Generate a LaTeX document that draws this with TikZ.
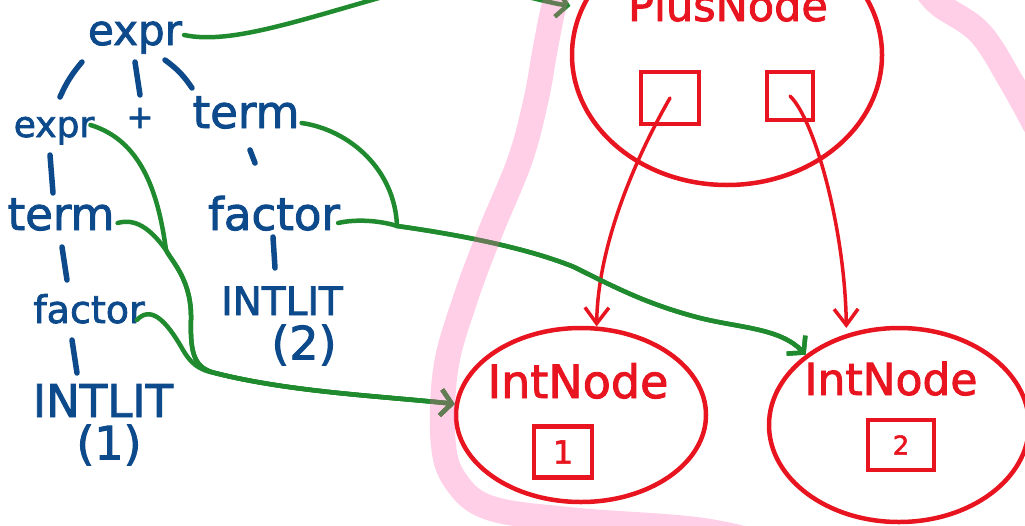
\documentclass[tikz,border=0pt]{standalone}
\usepackage{fontspec}
\setmainfont{DejaVu Sans}[BoldFont=DejaVu Sans,BoldFeatures={FakeBold=2}]
\usetikzlibrary{arrows.meta,shapes.geometric,calc}
\definecolor{ink}{HTML}{0D4A8B}
\definecolor{rd}{HTML}{E8141F}
\definecolor{gr}{HTML}{1F8A2E}
\definecolor{pk}{HTML}{FF5FAF}
\begin{document}
\begin{tikzpicture}[x=1pt,y=-1pt,
  fs/.style={font=\fontsize{#1}{#1}\selectfont\bfseries},
  bl/.style={text=ink, inner sep=0pt, anchor=base},
  rl/.style={text=rd, inner sep=0pt, anchor=base},
  tree/.style={draw=ink, line width=5.5pt, line cap=round},
  oval/.style={draw=rd, ellipse, line width=4.5pt, inner sep=0pt},
  sbox/.style={draw=rd, line width=4.5pt, inner sep=0pt, text=rd},
  ptr/.style={draw=rd, line width=3.5pt, line cap=round, -{Straight Barb[length=16pt,width=24pt]}},
  link/.style={draw=gr, line width=4.5pt, line cap=round, -{Straight Barb[length=11pt,width=26pt]}},
  hl/.style={draw=pk, line width=25pt, opacity=0.3, line cap=round, line join=round}]
\useasboundingbox (0,0) rectangle (1025,525);
\clip (0,0) rectangle (1025,525);

% parse tree
\node[bl,fs=42] (exprT) at (135,45) {expr};
\node[bl,fs=36] (exprL) at (54,137) {expr};
\node[text=ink,inner sep=0pt,fs=32] (plus) at (140,118) {+};
\node[bl,fs=45] (termR) at (246,128) {term};
\node[bl,fs=45] (factorR) at (274,230) {factor};
\node[bl,fs=39] (intlitR) at (282,315) {INTLIT};
\node[text=ink,inner sep=0pt,fs=46] (twoR) at (304,345) {(2)};
\node[bl,fs=45] (termL) at (61,230) {term};
\node[bl,fs=38] (factorL) at (89,323) {factor};
\node[bl,fs=45] (intlitL) at (103,417) {INTLIT};
\node[text=ink,inner sep=0pt,fs=46] (oneL) at (109,445) {(1)};

\draw[tree] ($(exprT.base)+(-53,17)$) to[bend right=8] ($(exprL.base)+(6,-40)$);
\draw[tree] ($(exprT.base)+(0,17)$) -- ($(plus.center)+(0,-23)$);
\draw[tree] ($(exprT.base)+(30,15)$) to[bend left=10] ($(termR.base)+(-54,-40)$);
\draw[tree] ($(termR.base)+(4,22)$) -- ($(factorR.base)+(-19,-67)$);
\draw[tree] ($(factorR.base)+(-1,7)$) -- ($(intlitR.base)+(-7,-47)$);
\draw[tree] ($(exprL.base)+(-4,18)$) -- ($(termL.base)+(-8,-37)$);
\draw[tree] ($(termL.base)+(1,17)$) -- ($(factorL.base)+(-22,-43)$);
\draw[tree] ($(factorL.base)+(-17,17)$) -- ($(intlitL.base)+(-26,-44)$);

% AST
\node[oval,minimum width=310,minimum height=260] (plusN) at (727,55) {};
\node[rl,fs=43] (plusLbl) at (728,21) {PlusNode};
\node[sbox,minimum width=58,minimum height=52] (lbox) at (670,98) {};
\node[sbox,minimum width=46,minimum height=48] (rbox) at (790,96) {};

\node[oval,minimum width=250,minimum height=174] (int1) at (581,415) {};
\node[rl,fs=46] (int1Lbl) at (578,398) {IntNode};
\node[sbox,minimum width=58,minimum height=51,fs=32] (box1) at (563,452) {1};

\node[oval,minimum width=260,minimum height=194] (int2) at (899,425) {};
\node[rl,fs=44] (int2Lbl) at (891,395) {IntNode};
\node[sbox,minimum width=66,minimum height=50,fs=26] (box2) at (901,445) {2};

\draw[ptr] (lbox.center) .. controls (640,150) and (598,240) .. (int1.80);
\draw[ptr,shorten >=6pt] (rbox.center) .. controls (815,120) and (845,230) .. (int2.120);

% correspondence links
\draw[link,shorten >=10pt] ($(exprT.base east)+(2,-10)$) .. controls (230,45) and (300,20) .. (400,-8) .. controls (470,-25) and (530,0) .. (plusN.162);
\draw[link] ($(exprL.base east)+(-4,-12)$) .. controls (140,140) and (158,190) .. (166,250) .. controls (172,262) and (192,280) .. (191,320) .. controls (190,355) and (195,368) .. (215,373) .. controls (290,392) and (380,396) .. (int1.175);
\draw[link] ($(termL.base east)+(3,-7)$) .. controls (135,218) and (150,228) .. (166,250) .. controls (172,262) and (192,280) .. (191,320) .. controls (190,355) and (195,368) .. (215,373) .. controls (290,392) and (380,396) .. (int1.175);
\draw[link] ($(factorL.base east)+(-8,-3)$) .. controls (150,306) and (165,318) .. (183,350) .. controls (190,362) and (198,370) .. (215,373) .. controls (290,392) and (380,396) .. (int1.175);
\draw[link] ($(termR.base east)+(2,-5)$) .. controls (350,130) and (395,170) .. (397,226) .. controls (440,232) and (520,245) .. (574,267) .. controls (620,290) and (650,305) .. (700,318) .. controls (740,328) and (780,328) .. (int2.143);
\draw[link] ($(factorR.base east)+(-2,-7)$) .. controls (360,218) and (385,222) .. (397,226) .. controls (440,232) and (520,245) .. (574,267) .. controls (620,290) and (650,305) .. (700,318) .. controls (740,328) and (780,328) .. (int2.143);

% highlight
\draw[hl] plot[smooth,tension=0.6] coordinates {(560,-12) (553,10) (545,50) (536,100) (520,160) (490,233) (465,300) (446,367) (443,440) (455,480) (490,508) (574,520) (700,530) (780,548)};
\draw[hl] plot[smooth,tension=0.6] coordinates {(925,-12) (940,5) (980,33) (1012,83) (1035,125)};
\end{tikzpicture}
\end{document}
